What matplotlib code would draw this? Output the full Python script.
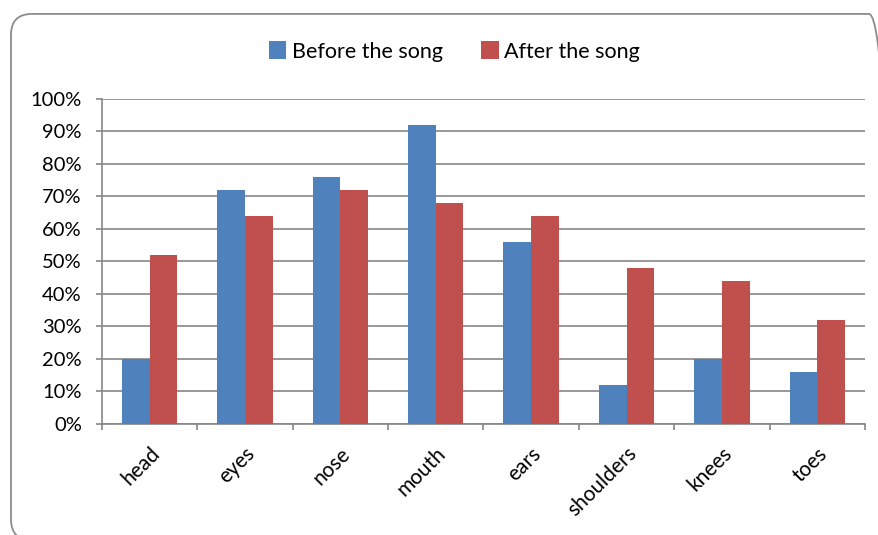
import numpy as np
import matplotlib.pyplot as plt
from matplotlib.patches import FancyBboxPatch
from matplotlib.ticker import FixedLocator, PercentFormatter

# survey results, percent of children naming each body part
parts = ['head', 'eyes', 'nose', 'mouth', 'ears', 'shoulders', 'knees', 'toes']
before_song = [20, 72, 76, 92, 56, 12, 20, 16]
after_song = [52, 64, 72, 68, 64, 48, 44, 32]

plt.rcParams['font.family'] = ['Lato', 'DejaVu Sans']

fig = plt.figure(figsize=(8.79, 5.35), dpi=100)
ax = fig.add_axes([0.116, 0.2075, 0.868, 0.6075])

# rounded chart frame (runs off the right and bottom edges)
frame = FancyBboxPatch((0.0125, -0.01), 1.0, 0.984,
                       boxstyle='round,pad=0,rounding_size=0.024',
                       transform=fig.transFigure, facecolor='none',
                       edgecolor='#8c8c8c', linewidth=1.3, mutation_aspect=879/535)
fig.patches.append(frame)

x = np.arange(len(parts))
w = 0.29
ax.bar(x - w/2, before_song, w, color='#4F81BD', label='Before the song', zorder=3)
ax.bar(x + w/2, after_song, w, color='#C0504D', label='After the song', zorder=3)

ax.set_xlim(-0.5, len(parts) - 0.5)
ax.set_ylim(0, 100)
ax.set_yticks(np.arange(0, 101, 10))
ax.yaxis.set_major_formatter(PercentFormatter(decimals=0))
ax.grid(axis='y', color='#868686', linewidth=1.2, zorder=0)

ax.set_xticks(x)
ax.set_xticklabels(parts, rotation=45, ha='right', rotation_mode='anchor')
ax.xaxis.set_minor_locator(FixedLocator(np.arange(-0.5, len(parts), 1)))
ax.tick_params(axis='x', which='major', length=0, pad=14, labelsize=15)
ax.tick_params(axis='x', which='minor', length=4.5, color='#868686', width=1.2)
ax.tick_params(axis='y', length=4.5, color='#868686', width=1.2, labelsize=14.5, pad=10)

for side in ['top', 'right']:
    ax.spines[side].set_visible(False)
for side in ['left', 'bottom']:
    ax.spines[side].set_color('#868686')
    ax.spines[side].set_linewidth(1.2)

fig.legend(loc='center', bbox_to_anchor=(0.517, 0.904), ncol=2, frameon=False,
           fontsize=15.5, handlelength=0.8, handleheight=0.9, handletextpad=0.25,
           columnspacing=1.8)

fig.savefig('out.png', dpi=100)
